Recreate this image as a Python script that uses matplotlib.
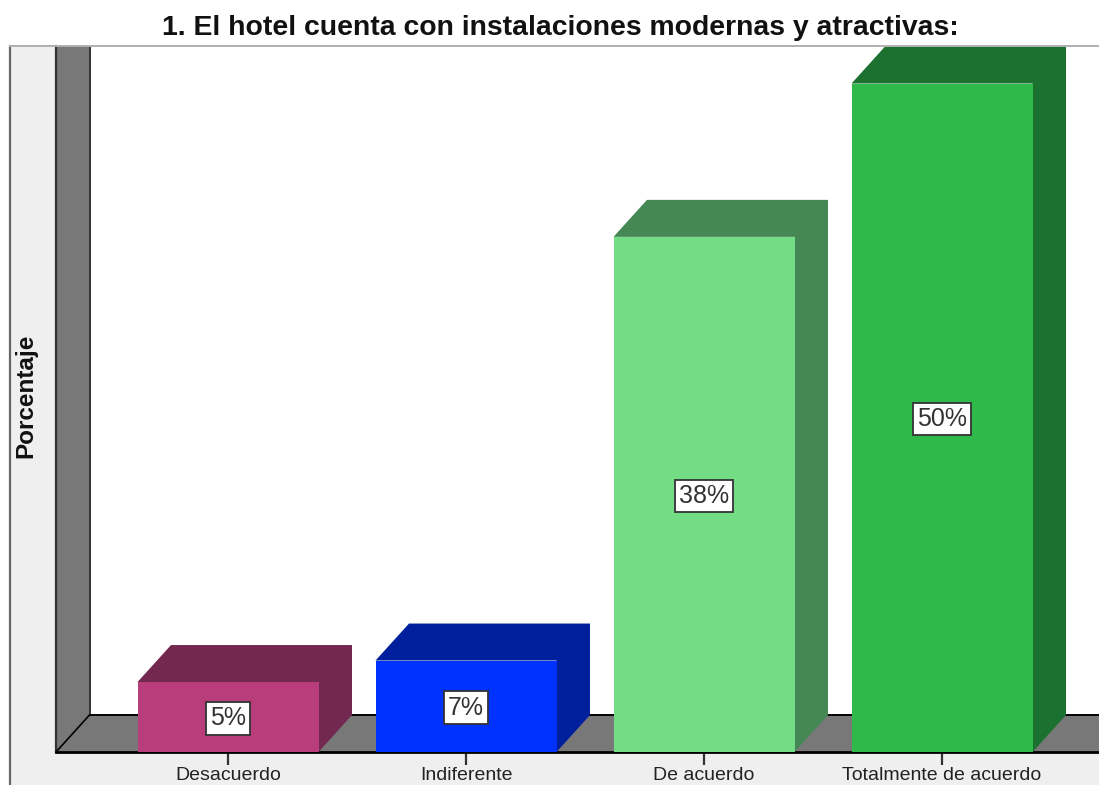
import matplotlib
matplotlib.use('Agg')
import matplotlib.pyplot as plt
from matplotlib.patches import Polygon, Rectangle

categorias = ['Desacuerdo', 'Indiferente', 'De acuerdo', 'Totalmente de acuerdo']
valores = [5.2, 6.8, 38.3, 49.7]
etiquetas = ['5%', '7%', '38%', '50%']
colores = ['#B93D7B', '#0032FF', '#72DD85', '#2FB94B']
oscuros = ['#72284F', '#001F9C', '#458755', '#1C7030']

W, H = 1099, 785
plt.rcParams['font.family'] = ['Liberation Sans', 'DejaVu Sans']
fig = plt.figure(figsize=(W / 100, H / 100), dpi=100, facecolor='white')

# panel gris de fondo
fig.add_artist(Rectangle((10 / W, 0), 1 - 10 / W, 1 - 46 / H, transform=fig.transFigure,
                         facecolor='#EFEFEF', edgecolor='none', zorder=-5))
fig.add_artist(plt.Line2D([10 / W, 10 / W], [0, 1 - 46 / H], color='#666666', lw=1.6))
fig.add_artist(plt.Line2D([10 / W, 1], [1 - 46 / H, 1 - 46 / H], color='#B0B0B0', lw=1.4))

ax = fig.add_axes([56 / W, 1 - 752 / H, (W - 56) / W, (752 - 46) / H])
ax.set_facecolor('white')
x0, x1 = (56 - 228) / 238, (1099 - 228) / 238
y1 = 706 / 13.45
ax.set_xlim(x0, x1)
ax.set_ylim(0, y1)
for s in ax.spines.values():
    s.set_visible(False)

ancho = 181 / 238
dx = 33.5 / 238
dy = 37 / 13.45

# pared y suelo
ax.add_patch(Polygon([(x0, 0), (x0 + dx, dy), (x0 + dx, y1), (x0, y1)], facecolor='#787878', edgecolor='none', zorder=1))
ax.add_patch(Polygon([(x0, 0), (x1, 0), (x1, dy), (x0 + dx, dy)], facecolor='#787878', edgecolor='none', zorder=1))
ax.plot([x0, x0], [0, y1], color='#333333', lw=1.6, zorder=2, clip_on=False)
ax.plot([x0 + dx, x0 + dx], [dy, y1], color='#333333', lw=1.4, zorder=2)
ax.plot([x0 + dx, x1], [dy, dy], color='black', lw=1.4, zorder=2)
ax.plot([x0, x0 + dx], [0, dy], color='black', lw=1.2, zorder=2)
ax.plot([x0, x1], [0, 0], color='black', lw=2, zorder=2, clip_on=False)

for i, v in enumerate(valores):
    iz = i - ancho / 2
    de = i + ancho / 2
    # tapa y lado de la barra en una sola pieza
    ax.add_patch(Polygon([(iz, v), (iz + dx, v + dy), (de + dx, v + dy), (de + dx, dy), (de, 0), (de, v)],
                         facecolor=oscuros[i], edgecolor='none', zorder=3, clip_on=False))
    ax.bar(i, v, width=ancho, color=colores[i], zorder=4)
    ax.annotate(etiquetas[i], (i, v / 2), xytext=(0, -1), textcoords='offset points',
                ha='center', va='center', fontsize=18, color='#333333', zorder=6,
                bbox=dict(boxstyle='square,pad=0.17', facecolor='white', edgecolor='#333333', lw=1.3))

ax.set_xticks(range(len(categorias)))
ax.set_xticklabels(categorias, fontsize=14, color='#222222')
ax.tick_params(axis='x', length=9, width=1.6, color='#333333', pad=2)
ax.set_yticks([])

fig.text(560 / W, 1 - 28 / H, '1. El hotel cuenta con instalaciones modernas y atractivas:',
         ha='center', va='center', fontsize=20.4, fontweight='bold', color='#111111')
fig.text(26 / W, 1 - 396 / H, 'Porcentaje', rotation=90, ha='center', va='center',
         fontsize=17.5, fontweight='bold', color='#111111')

fig.savefig('out.png', dpi=100)
